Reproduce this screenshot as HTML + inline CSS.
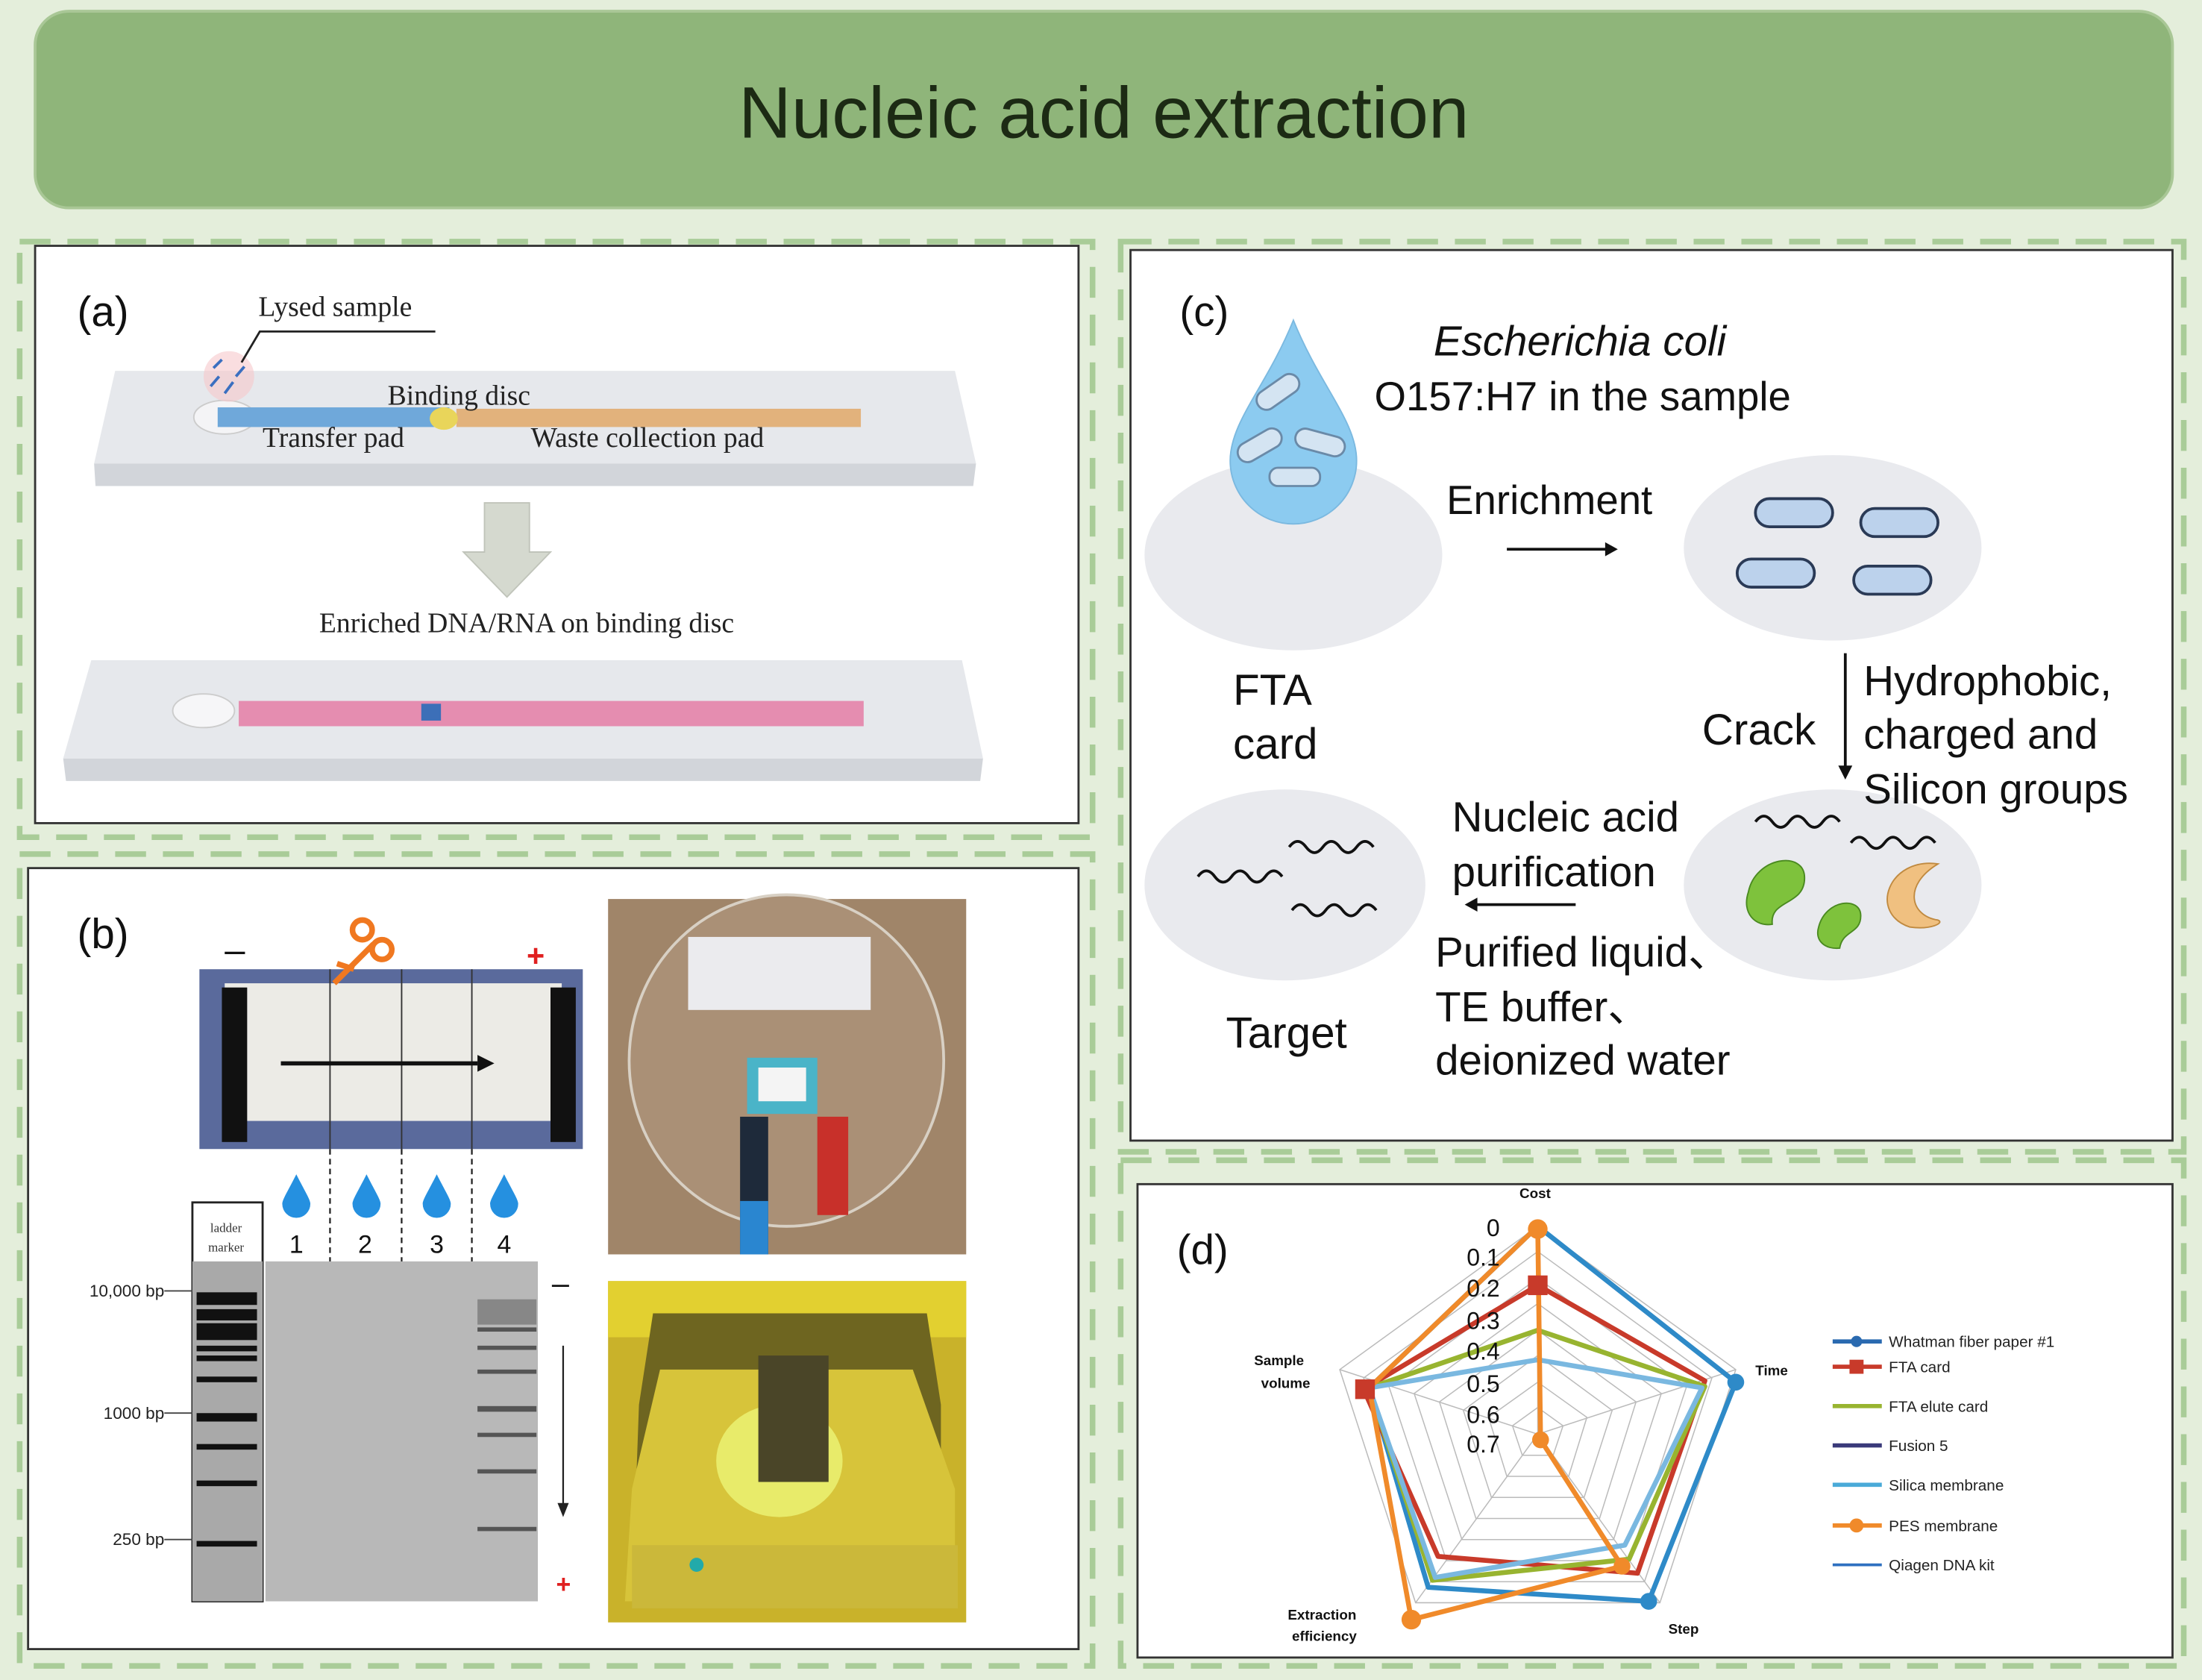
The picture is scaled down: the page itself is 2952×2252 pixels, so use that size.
<!DOCTYPE html>
<html><head><meta charset="utf-8"><style>
html,body{margin:0;padding:0;background:#e4eedb;}
svg{display:block;}
text{font-family:"Liberation Sans",sans-serif;}
.serif{font-family:"Liberation Serif",serif;}
</style></head><body>
<svg width="2952" height="2252" viewBox="0 0 1568 1196" preserveAspectRatio="none" xmlns="http://www.w3.org/2000/svg">
<rect x="0" y="0" width="1568" height="1196" fill="#e4eedb"/>
<rect x="25" y="8" width="1522" height="140" rx="24" fill="#8fb57a" stroke="#a9c796" stroke-width="2"/>
<text x="786" y="98" font-size="52" text-anchor="middle" fill="#1c2a14">Nucleic acid extraction</text>

<g fill="none" stroke="#a9cc98" stroke-width="4" stroke-dasharray="22,12">
<rect x="14" y="172" width="764" height="424"/>
<rect x="14" y="608" width="764" height="578"/>
<rect x="798" y="172" width="757" height="648"/>
<rect x="798" y="826" width="757" height="360"/>
</g>
<rect x="25" y="175" width="743" height="411" fill="#fff" stroke="#333" stroke-width="1.5"/>
<rect x="20" y="618" width="748" height="556" fill="#fff" stroke="#333" stroke-width="1.5"/>
<rect x="805" y="178" width="742" height="634" fill="#fff" stroke="#333" stroke-width="1.5"/>
<rect x="810" y="843" width="737" height="337" fill="#fff" stroke="#333" stroke-width="1.5"/>

<!-- Panel a -->
<text x="55" y="232" font-size="30" fill="#111">(a)</text>
<polygon points="82,264 680,264 695,330 67,330" fill="#e6e8ec"/>
<polygon points="67,330 695,330 693,346 68,346" fill="#d2d5da"/>
<ellipse cx="160" cy="297" rx="22" ry="12" fill="#f4f4f6" stroke="#ccc"/>
<rect x="155" y="290" width="165" height="14" fill="#6fa8da"/>
<rect x="325" y="291" width="288" height="13" fill="#e2b27c"/>
<ellipse cx="316" cy="298" rx="10" ry="8" fill="#e9d55a"/>
<circle cx="163" cy="268" r="18" fill="#f6c8cc" opacity="0.6"/>
<g stroke="#3a6fc0" stroke-width="2"><line x1="150" y1="275" x2="156" y2="268"/><line x1="160" y1="280" x2="166" y2="272"/><line x1="168" y1="268" x2="174" y2="261"/><line x1="152" y1="262" x2="158" y2="256"/></g>
<polyline points="172,258 185,236 310,236" fill="none" stroke="#222" stroke-width="1.5"/>
<text x="184" y="225" font-size="20" class="serif" fill="#222">Lysed sample</text>
<text x="276" y="288" font-size="20" class="serif" fill="#222">Binding disc</text>
<text x="187" y="318" font-size="20" class="serif" fill="#222">Transfer pad</text>
<text x="378" y="318" font-size="20" class="serif" fill="#222">Waste collection pad</text>
<polygon points="345,358 377,358 377,393 392,393 361,425 330,393 345,393" fill="#d5d9cf" stroke="#c0c4ba"/>
<text x="375" y="450" font-size="20" class="serif" text-anchor="middle" fill="#222">Enriched DNA/RNA on binding disc</text>
<polygon points="65,470 685,470 700,540 45,540" fill="#e6e8ec"/>
<polygon points="45,540 700,540 698,556 47,556" fill="#d2d5da"/>
<ellipse cx="145" cy="506" rx="22" ry="12" fill="#f6f6f8" stroke="#ccc"/>
<rect x="170" y="499" width="445" height="18" fill="#e58db0"/>
<rect x="300" y="501" width="14" height="12" fill="#3c6fb8"/>

<!-- Panel b -->
<text x="55" y="675" font-size="30" fill="#111">(b)</text>
<text x="160" y="685" font-size="26" fill="#111">–</text>
<text x="375" y="688" font-size="22" fill="#e02020" font-weight="bold">+</text>
<rect x="142" y="690" width="273" height="128" fill="#5a6a9c"/>
<rect x="160" y="700" width="240" height="98" fill="#ecebe6"/>
<rect x="158" y="703" width="18" height="110" fill="#111"/>
<rect x="392" y="703" width="18" height="110" fill="#111"/>
<g stroke="#333" stroke-width="1"><line x1="235" y1="690" x2="235" y2="818"/><line x1="286" y1="690" x2="286" y2="818"/><line x1="336" y1="690" x2="336" y2="818"/></g>
<line x1="200" y1="757" x2="340" y2="757" stroke="#111" stroke-width="3"/>
<polygon points="340,751 352,757 340,763" fill="#111"/>
<g stroke="#f07820" stroke-width="4" fill="none"><circle cx="258" cy="662" r="7"/><circle cx="272" cy="676" r="7"/><line x1="238" y1="700" x2="266" y2="672"/><line x1="240" y1="686" x2="252" y2="690"/></g>
<g stroke="#222" stroke-width="1.2" stroke-dasharray="4,3"><line x1="235" y1="818" x2="235" y2="1140"/><line x1="286" y1="818" x2="286" y2="1140"/><line x1="336" y1="818" x2="336" y2="1140"/></g>
<g fill="#2590e0"><path d="M211,836 C217,848 221,854 221,857 A10,10 0 0 1 201,857 C201,854 205,848 211,836Z"/><path d="M261,836 C267,848 271,854 271,857 A10,10 0 0 1 251,857 C251,854 255,848 261,836Z"/><path d="M311,836 C317,848 321,854 321,857 A10,10 0 0 1 301,857 C301,854 305,848 311,836Z"/><path d="M359,836 C365,848 369,854 369,857 A10,10 0 0 1 349,857 C349,854 353,848 359,836Z"/></g>
<g font-size="18" class="serif" fill="#111" text-anchor="middle"><text x="211" y="892">1</text><text x="260" y="892">2</text><text x="311" y="892">3</text><text x="359" y="892">4</text></g>
<rect x="137" y="856" width="50" height="284" fill="#fff" stroke="#222" stroke-width="1.5"/>
<text x="161" y="877" font-size="9" class="serif" text-anchor="middle" fill="#333">ladder</text>
<text x="161" y="891" font-size="9" class="serif" text-anchor="middle" fill="#333">marker</text>
<rect x="137" y="898" width="50" height="242" fill="#a9a9a9"/>
<rect x="189" y="898" width="194" height="242" fill="#b8b8b8"/>
<g fill="#111"><rect x="140" y="920" width="43" height="9"/><rect x="140" y="932" width="43" height="8"/><rect x="140" y="942" width="43" height="12"/><rect x="140" y="958" width="43" height="4"/><rect x="140" y="965" width="43" height="4"/><rect x="140" y="980" width="43" height="4"/><rect x="140" y="1006" width="43" height="6"/><rect x="140" y="1028" width="43" height="4"/><rect x="140" y="1054" width="43" height="4"/><rect x="140" y="1097" width="43" height="4"/></g>
<g fill="#555"><rect x="340" y="925" width="42" height="18" opacity="0.5"/><rect x="340" y="945" width="42" height="3"/><rect x="340" y="958" width="42" height="3"/><rect x="340" y="975" width="42" height="3"/><rect x="340" y="1001" width="42" height="4"/><rect x="340" y="1020" width="42" height="3"/><rect x="340" y="1046" width="42" height="3"/><rect x="340" y="1087" width="42" height="3"/></g>
<g font-size="12" class="serif" fill="#222" text-anchor="end"><text x="117" y="923">10,000 bp</text><text x="117" y="1010">1000 bp</text><text x="117" y="1100">250 bp</text></g>
<g stroke="#444" stroke-width="1"><line x1="117" y1="919" x2="137" y2="919"/><line x1="117" y1="1006" x2="137" y2="1006"/><line x1="117" y1="1096" x2="137" y2="1096"/></g>
<text x="393" y="921" font-size="22" fill="#111">–</text>
<line x1="401" y1="958" x2="401" y2="1072" stroke="#222" stroke-width="1.2"/>
<polygon points="397,1070 405,1070 401,1080" fill="#222"/>
<text x="396" y="1134" font-size="18" fill="#e02020" font-weight="bold">+</text>
<rect x="433" y="640" width="255" height="253" fill="#a08569"/>
<ellipse cx="560" cy="755" rx="112" ry="118" fill="#aa9076" stroke="#d8d0c4" stroke-width="2"/>
<rect x="490" y="667" width="130" height="52" fill="#ebebee"/>
<rect x="532" y="753" width="50" height="40" fill="#4ab4c8"/>
<rect x="540" y="760" width="34" height="24" fill="#f4f4f4"/>
<rect x="527" y="795" width="20" height="98" fill="#1e2a3a"/>
<rect x="527" y="855" width="20" height="38" fill="#2a86d0"/>
<rect x="582" y="795" width="22" height="70" fill="#c8302a"/>
<rect x="433" y="912" width="255" height="243" fill="#c9b22a"/>
<rect x="433" y="912" width="255" height="40" fill="#e2d030"/>
<path d="M455,1000 L465,935 L660,935 L670,1000 L670,1140 L450,1140 Z" fill="#6e6520"/>
<path d="M450,1060 L470,975 L650,975 L680,1060 L680,1140 L445,1140 Z" fill="#d7c43a"/>
<rect x="450" y="1100" width="232" height="45" fill="#cbb83a"/>
<ellipse cx="555" cy="1040" rx="45" ry="40" fill="#e8eb6a"/>
<rect x="540" y="965" width="50" height="90" fill="#4a4528"/>
<circle cx="496" cy="1114" r="5" fill="#2aa"/>

<!-- Panel c -->
<text x="840" y="232" font-size="30" fill="#111">(c)</text>
<ellipse cx="921" cy="395" rx="106" ry="68" fill="#e9eaee"/>
<ellipse cx="1305" cy="390" rx="106" ry="66" fill="#e9eaee"/>
<ellipse cx="1305" cy="630" rx="106" ry="68" fill="#e9eaee"/>
<ellipse cx="915" cy="630" rx="100" ry="68" fill="#e9eaee"/>
<path d="M921,228 C940,275 966,300 966,328 A45,45 0 0 1 876,328 C876,300 902,275 921,228Z" fill="#8ccbf0" stroke="#7bb9e0"/>
<g fill="#d4e4f2" stroke="#6a8aa8" stroke-width="1.5"><rect x="893" y="272" width="34" height="14" rx="7" transform="rotate(-35 910 279)"/><rect x="880" y="310" width="34" height="14" rx="7" transform="rotate(-30 897 317)"/><rect x="922" y="308" width="36" height="14" rx="7" transform="rotate(15 940 315)"/><rect x="904" y="333" width="36" height="13" rx="6"/></g>
<text x="1125" y="253" font-size="30" font-style="italic" text-anchor="middle" fill="#111">Escherichia coli</text>
<text x="1127" y="292" font-size="29" text-anchor="middle" fill="#111">O157:H7  in the sample</text>
<text x="1030" y="366" font-size="29" fill="#111">Enrichment</text>
<line x1="1073" y1="391" x2="1145" y2="391" stroke="#111" stroke-width="2"/>
<polygon points="1143,386 1152,391 1143,396" fill="#111"/>
<g fill="#bcd2ec" stroke="#2a3a56" stroke-width="2"><rect x="1250" y="355" width="55" height="20" rx="10"/><rect x="1325" y="362" width="55" height="20" rx="10"/><rect x="1237" y="398" width="55" height="20" rx="10"/><rect x="1320" y="403" width="55" height="20" rx="10"/></g>
<text x="878" y="502" font-size="31" fill="#111">FTA</text>
<text x="878" y="540" font-size="31" fill="#111">card</text>
<text x="1212" y="530" font-size="31" fill="#111">Crack</text>
<line x1="1314" y1="465" x2="1314" y2="547" stroke="#111" stroke-width="2"/>
<polygon points="1309,545 1314,555 1319,545" fill="#111"/>
<text x="1327" y="495" font-size="30" fill="#111">Hydrophobic,</text>
<text x="1327" y="533" font-size="30" fill="#111">charged and</text>
<text x="1327" y="572" font-size="30" fill="#111">Silicon groups</text>
<g fill="none" stroke="#111" stroke-width="2"><path d="M1250,585 q6,-8 12,0 t12,0 t12,0 t12,0 t12,0"/><path d="M1318,600 q6,-8 12,0 t12,0 t12,0 t12,0 t12,0"/></g>
<path d="M1245,635 C1250,610 1285,605 1285,625 C1285,645 1260,640 1262,658 C1250,660 1240,650 1245,635Z" fill="#7ec23c" stroke="#4a8a20"/>
<path d="M1295,660 C1300,640 1325,638 1325,652 C1325,665 1312,662 1310,675 C1300,676 1292,670 1295,660Z" fill="#7ec23c" stroke="#4a8a20"/>
<path d="M1380,615 C1345,610 1330,650 1360,660 C1375,662 1385,657 1380,655 C1360,652 1355,630 1380,615Z" fill="#f0c080" stroke="#c08a40"/>
<text x="1034" y="592" font-size="30" fill="#111">Nucleic acid</text>
<text x="1034" y="631" font-size="30" fill="#111">purification</text>
<line x1="1050" y1="644" x2="1122" y2="644" stroke="#111" stroke-width="2"/>
<polygon points="1052,639 1043,644 1052,649" fill="#111"/>
<text x="1022" y="688" font-size="30" fill="#111">Purified liquid、</text>
<text x="1022" y="727" font-size="30" fill="#111">TE buffer、</text>
<text x="1022" y="765" font-size="30" fill="#111">deionized water</text>
<g fill="none" stroke="#111" stroke-width="2"><path d="M918,603 q6,-8 12,0 t12,0 t12,0 t12,0 t12,0"/><path d="M853,624 q6,-8 12,0 t12,0 t12,0 t12,0 t12,0"/><path d="M920,648 q6,-8 12,0 t12,0 t12,0 t12,0 t12,0"/></g>
<text x="873" y="746" font-size="31" fill="#111">Target</text>

<!-- Panel d -->
<text x="838" y="900" font-size="30" fill="#111">(d)</text>
<g fill="none" stroke="#bbb" stroke-width="0.8">
<polygon points="1095,873 1236,975 1182,1141 1008,1141 954,975"/>
<polygon points="1095,891 1219,981 1171,1126 1019,1126 971,981"/>
<polygon points="1095,910 1201,987 1160,1111 1030,1111 989,987"/>
<polygon points="1095,928 1183,992 1149,1096 1041,1096 1007,992"/>
<polygon points="1095,947 1165,998 1139,1081 1051,1081 1025,998"/>
<polygon points="1095,965 1148,1004 1128,1066 1062,1066 1042,1004"/>
<polygon points="1095,984 1130,1009 1117,1051 1073,1051 1060,1009"/>
<polygon points="1095,1002 1113,1015 1106,1036 1084,1036 1077,1015"/>
<line x1="1095" y1="1021" x2="1095" y2="873"/><line x1="1095" y1="1021" x2="1236" y2="975"/><line x1="1095" y1="1021" x2="1182" y2="1141"/><line x1="1095" y1="1021" x2="1008" y2="1141"/><line x1="1095" y1="1021" x2="954" y2="975"/>
</g>
<g fill="none" stroke-width="3.5" stroke-linejoin="round">
<polygon points="1095,873 1236,984 1174,1140 1017,1130 975,988" stroke="#2e8ac8"/>
<polygon points="1095,915 1214,983 1166,1120 1024,1108 971,989" stroke="#c83a2a"/>
<polygon points="1095,947 1214,987 1160,1110 1020,1125 975,988" stroke="#98b430"/>
<polygon points="1095,968 1212,988 1157,1100 1022,1123 975,988" stroke="#7ab8e0"/>
<polygon points="1095,873 1097,1025 1155,1115 1005,1153 975,988" stroke="#f08a2a"/>
</g>
<g fill="#c83a2a"><rect x="1088" y="908" width="14" height="14"/><rect x="965" y="982" width="14" height="14"/></g>
<g fill="#f08a2a"><circle cx="1095" cy="875" r="7"/><circle cx="1097" cy="1025" r="6"/><circle cx="1005" cy="1153" r="7"/><circle cx="1155" cy="1115" r="6"/></g>
<g fill="#2e8ac8"><circle cx="1236" cy="984" r="6"/><circle cx="1174" cy="1140" r="6"/></g>
<g font-size="17" fill="#111" text-anchor="end"><text x="1068" y="880">0</text><text x="1068" y="901">0.1</text><text x="1068" y="923">0.2</text><text x="1068" y="946">0.3</text><text x="1068" y="968">0.4</text><text x="1068" y="991">0.5</text><text x="1068" y="1013">0.6</text><text x="1068" y="1034">0.7</text></g>
<g font-size="10" class="serif" fill="#111" font-weight="bold"><text x="1082" y="853">Cost</text><text x="1250" y="979">Time</text><text x="1188" y="1163">Step</text><text x="917" y="1153">Extraction</text><text x="920" y="1168">efficiency</text><text x="893" y="972">Sample</text><text x="898" y="988">volume</text></g>
<g stroke-width="3">
<line x1="1305" y1="955" x2="1340" y2="955" stroke="#2a6ab0"/><circle cx="1322" cy="955" r="4" fill="#2a6ab0"/>
<line x1="1305" y1="973" x2="1340" y2="973" stroke="#c83a2a"/><rect x="1317" y="968" width="10" height="10" fill="#c83a2a"/>
<line x1="1305" y1="1001" x2="1340" y2="1001" stroke="#98b430"/>
<line x1="1305" y1="1029" x2="1340" y2="1029" stroke="#3a3a7a"/>
<line x1="1305" y1="1057" x2="1340" y2="1057" stroke="#4aaad8"/>
<line x1="1305" y1="1086" x2="1340" y2="1086" stroke="#f08a2a"/><circle cx="1322" cy="1086" r="5" fill="#f08a2a"/>
<line x1="1305" y1="1114" x2="1340" y2="1114" stroke="#2e70c0" stroke-width="2"/>
</g>
<g font-size="11" class="serif" fill="#222"><text x="1345" y="959">Whatman fiber paper #1</text><text x="1345" y="977">FTA card</text><text x="1345" y="1005">FTA elute card</text><text x="1345" y="1033">Fusion 5</text><text x="1345" y="1061">Silica membrane</text><text x="1345" y="1090">PES membrane</text><text x="1345" y="1118">Qiagen DNA kit</text></g>
</svg>
</body></html>
